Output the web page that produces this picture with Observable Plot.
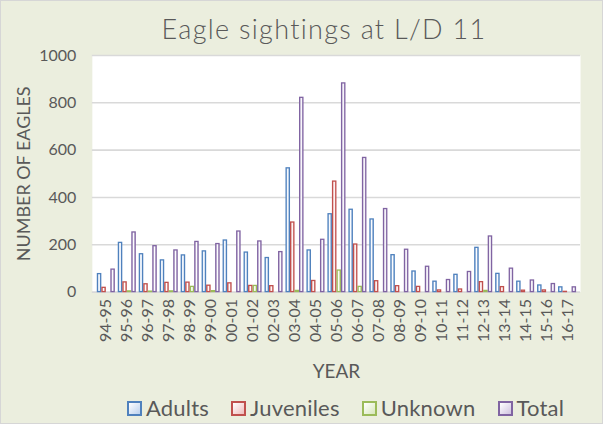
<!DOCTYPE html>
<html><head><meta charset="utf-8">
<script src="https://cdn.jsdelivr.net/npm/d3@7"></script>
<script src="https://cdn.jsdelivr.net/npm/@observablehq/plot@0.6"></script>
<style>
body{margin:0;background:#fff;}
#wrap{position:relative;width:601px;height:422px;background:#ebeede;border:1px solid #d6d6d6;font-family:Lato,"Open Sans",sans-serif;color:#595959;overflow:hidden}
#title{position:absolute;left:0;width:646px;top:13px;text-align:center;font-size:27px;line-height:30px;font-weight:300;letter-spacing:1.3px}
#chart{position:absolute;left:-1px;top:42px}
#legend{position:absolute;top:396px;left:126px;display:flex;gap:22px;font-size:22px;line-height:22px;letter-spacing:0.2px}
.item{display:flex;align-items:center;gap:4px}
.sw{width:11px;height:11px;border:2px solid}
</style></head>
<body>
<div id="wrap">
  <div id="title">Eagle sightings at L/D 11</div>
  <div id="chart"></div>
  <div id="legend"></div>
</div>
<script>
const years = ["94-95","95-96","96-97","97-98","98-99","99-00","00-01","01-02","02-03","03-04","04-05","05-06","06-07","07-08","08-09","09-10","10-11","11-12","12-13","13-14","14-15","15-16","16-17"];
const adults    = [76,208,160,134,155,172,218,167,144,523,176,329,348,307,156,87,44,73,187,77,44,28,20];
const juveniles = [18,41,33,39,40,27,37,26,25,294,47,467,201,46,25,22,7,11,42,21,6,7,1];
const unknown   = [0,3,2,3,22,4,0,26,0,5,0,91,22,0,0,0,0,0,5,0,0,0,0];
const total     = [95,252,194,176,212,203,256,214,169,821,221,882,567,351,179,107,51,85,235,99,49,34,20];
const seriesNames = ["Adults","Juveniles","Unknown","Total"];
const seriesValues = [adults, juveniles, unknown, total];
const yTicks = [0,200,400,600,800,1000];

const strokes = ["#4f81bd","#c0504d","#9bbb59","#8064a2"];
const tints   = ["#bcd1ee","#efbcbb","#d8e7bb","#d0c3e0"];

const W = 603, H = 346, ML = 92, MR = 22, MT = 12, MB = 97;
const padIn = 0.15, padOut = 0.08;
const bw = d3.scaleBand().domain(years).range([ML, W - MR]).paddingInner(padIn).paddingOuter(padOut).bandwidth();
const sub = bw / 4;

const bars = seriesNames.map((s, i) => Plot.barY(
  years.map((y, j) => ({year: y, series: s, value: seriesValues[i][j]})),
  {x: "year", y: "value", fill: `url(#grad${i})`, stroke: strokes[i], strokeWidth: 1.3,
   insetLeft: i * sub + 0.6, insetRight: (3 - i) * sub + 0.6}
));

const chart = Plot.plot({
  width: W, height: H,
  marginLeft: ML, marginRight: MR, marginTop: MT, marginBottom: MB,
  style: {color: "#595959", fontFamily: "Lato, 'Open Sans', sans-serif", background: "transparent", overflow: "visible"},
  x: {domain: years, paddingInner: padIn, paddingOuter: padOut},
  y: {domain: [0, 1000]},
  marks: [
    Plot.frame({fill: "white", stroke: null}),
    Plot.gridY(yTicks, {stroke: "#d9d9d9", strokeWidth: 1.6, strokeOpacity: 1}),
    Plot.axisY(yTicks, {tickSize: 0, tickPadding: 16, fontSize: 16, tickFormat: d3.format("d"), label: "NUMBER OF EAGLES", labelAnchor: "center", labelArrow: "none", labelOffset: 75}),
    ...bars,
    Plot.axisX({tickRotate: -90, tickSize: 0, tickPadding: 7, fontSize: 16, label: "YEAR", labelAnchor: "center", labelArrow: "none", labelOffset: 86})
  ]
});

const ns = "http://www.w3.org/2000/svg";
const defs = document.createElementNS(ns, "defs");
strokes.forEach((c, i) => {
  const g = document.createElementNS(ns, "linearGradient");
  g.setAttribute("id", "grad" + i);
  g.setAttribute("x1", "0"); g.setAttribute("x2", "1"); g.setAttribute("y1", "0"); g.setAttribute("y2", "0");
  [[0, tints[i]], [0.5, "#ffffff"], [1, tints[i]]].forEach(([o, col]) => {
    const st = document.createElementNS(ns, "stop");
    st.setAttribute("offset", o); st.setAttribute("stop-color", col);
    g.appendChild(st);
  });
  defs.appendChild(g);
});
chart.insertBefore(defs, chart.firstChild);
chart.querySelectorAll("[aria-label='y-axis label'] text").forEach(t => t.setAttribute("font-size", "18"));
chart.querySelectorAll("[aria-label='x-axis label'] text").forEach(t => t.setAttribute("font-size", "19"));
document.getElementById("chart").appendChild(chart);

const legend = document.getElementById("legend");
seriesNames.forEach((s, i) => {
  const it = document.createElement("div"); it.className = "item";
  const sw = document.createElement("div"); sw.className = "sw";
  sw.style.borderColor = strokes[i];
  sw.style.background = `linear-gradient(135deg, #ffffff, ${tints[i]})`;
  const tx = document.createElement("span"); tx.textContent = s;
  it.appendChild(sw); it.appendChild(tx); legend.appendChild(it);
});
</script>
</body></html>
